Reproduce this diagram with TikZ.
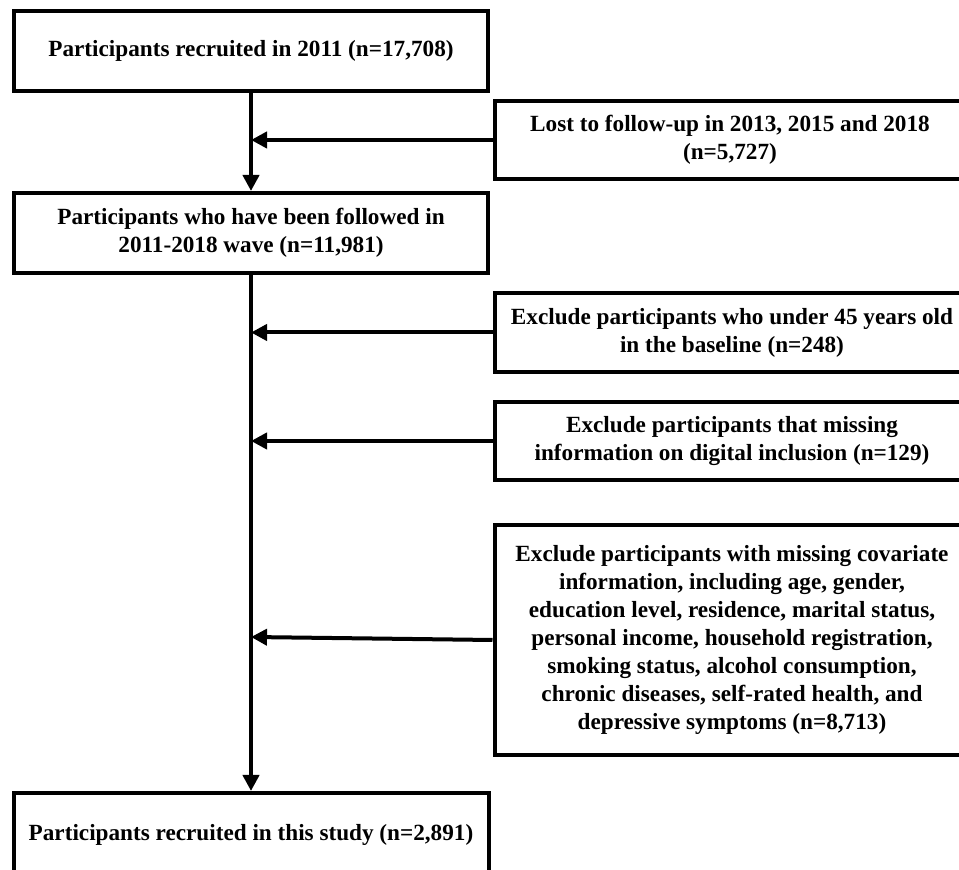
\documentclass[tikz,border=0pt]{standalone}
\usepackage{fontspec}
\setmainfont{Liberation Serif}
\usetikzlibrary{arrows.meta,calc,positioning}

\tikzset{
  box/.style={draw, line width=2pt, align=center, inner sep=0pt,
    font=\bfseries\fontsize{11.6}{14}\selectfont},
  flow/.style={line width=2pt, -{Triangle[length=8pt,width=8pt]}}
}

\begin{document}
\begin{tikzpicture}[x=0.5pt, y=-0.5pt]
		\path[use as bounding box, clip] (0,0) rectangle (959,870);
		
		% main column
		\node[box, minimum width=237pt, minimum height=40pt] (recruit) at (251,51)
		{Participants recruited in 2011 (n=17,708)};
		\node[box, minimum width=237pt, minimum height=40pt] (followed) at (251,233)
		{Participants who have been followed in\\2011-2018 wave (n=11,981)};
		\node[box, minimum width=237.5pt, minimum height=42pt] (final) at (251,835)
		{Participants recruited in this study (n=2,891)};
		\coordinate (trunk) at (251,0);
		
		% exclusions
		\node[box, minimum width=235pt, minimum height=39pt] (lost) at (730,140)
		{Lost to follow-up in 2013, 2015 and 2018\\(n=5,727)};
		\node[box, minimum width=237.5pt, minimum height=39.5pt] (under) at (732,332.5)
		{Exclude participants who under 45 years old\\in the baseline (n=248)};
		\node[box, minimum width=237.5pt, minimum height=39pt] (digital) at (732,441)
		{Exclude participants that missing\\information on digital inclusion (n=129)};
		\node[box, minimum width=237.5pt, minimum height=115pt] (covar) at (732,640)
		{Exclude participants with missing covariate\\information, including age, gender,\\education level, residence, marital status,\\personal income, household registration,\\smoking status, alcohol consumption,\\chronic diseases, self-rated health, and\\depressive symptoms (n=8,713)};
		
		\draw[flow] (recruit.south) -- (followed.north);
		\draw[line width=2pt] (followed.south) -- (covar.west -| trunk);
		\draw[flow] (covar.west -| trunk) -- (final.north);
		
		\draw[flow] (lost.west) -- (lost.west -| trunk);
		\draw[flow] (under.west) -- (under.west -| trunk);
		\draw[flow] (digital.west) -- (digital.west -| trunk);
		\draw[flow] (covar.west) -- ($(covar.west -| trunk)+(0,-3)$);
		
\end{tikzpicture}
\end{document}
